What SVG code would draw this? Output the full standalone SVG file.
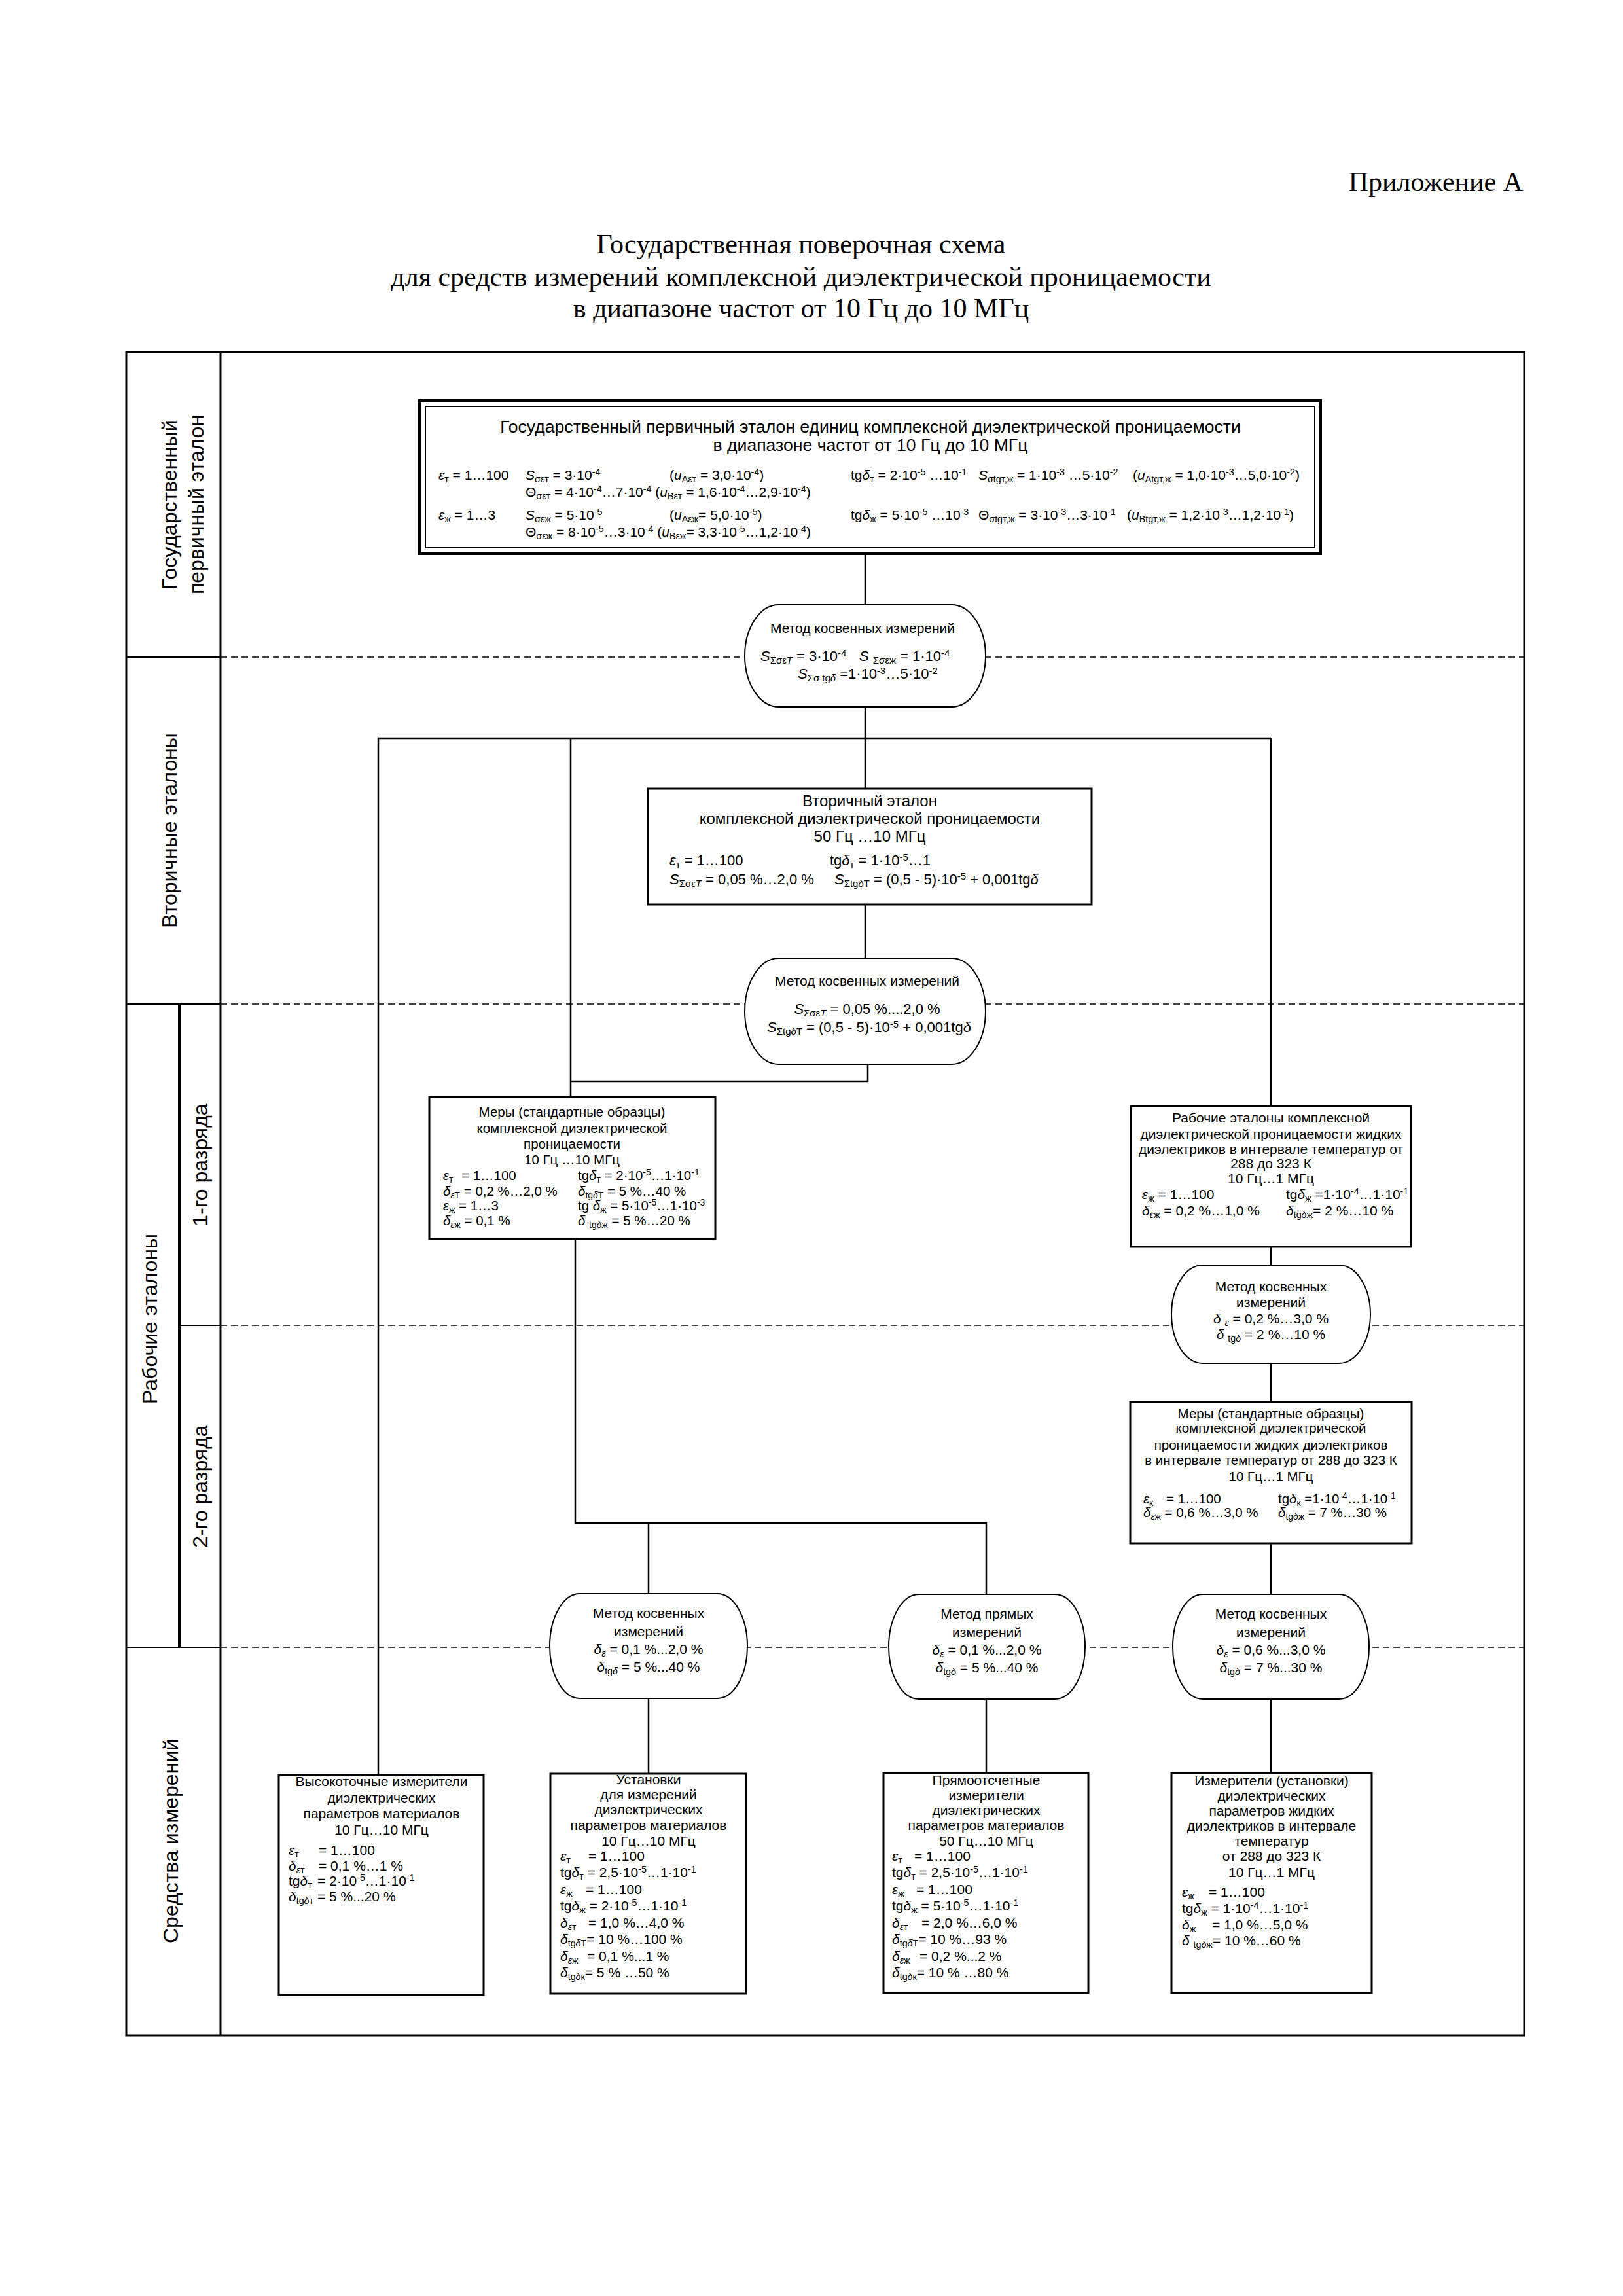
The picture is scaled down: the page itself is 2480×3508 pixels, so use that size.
<svg xmlns="http://www.w3.org/2000/svg" width="2480" height="3508" viewBox="0 0 2480 3508">
<style>
text{font-family:"Liberation Sans",Arial,Helvetica,sans-serif;fill:#000}
.serif{font-family:"Liberation Serif","Times New Roman",serif;font-size:42px}
.lab{font-size:32px;text-anchor:middle}
.c{text-anchor:middle}
.i{font-style:italic}
.sb{font-size:68%;baseline-shift:-4px}
.sp{font-size:68%;baseline-shift:7.5px}
.f20{font-size:20.5px}
.f21{font-size:21px}
.f22{font-size:22px}
.f24{font-size:24px}
.f27{font-size:26.6px}
.box{fill:#fff;stroke:#000;stroke-width:3}
.ov{fill:#fff;stroke:#000;stroke-width:2}
.ln{fill:none;stroke:#000;stroke-width:2.5}
.fr{fill:none;stroke:#000;stroke-width:3}
.thin{fill:none;stroke:#000;stroke-width:2}
.dash{fill:none;stroke:#000;stroke-width:1.5;stroke-dasharray:10 6}
</style>

<text class="serif" x="2327" y="292" text-anchor="end">Приложение А</text>
<text class="serif c" x="1224" y="387">Государственная поверочная схема</text>
<text class="serif c" x="1224" y="437">для средств измерений комплексной диэлектрической проницаемости</text>
<text class="serif c" x="1224" y="485">в диапазоне частот от 10 Гц до 10 МГц</text>

<g id="frame">
<rect class="fr" x="193" y="538" width="2136" height="2572"/>
<line class="fr" x1="337" y1="538" x2="337" y2="3110"/>
<line x1="274" y1="1534" x2="274" y2="2517" stroke="#000" stroke-width="4"/>
<line class="thin" x1="193" y1="1004" x2="337" y2="1004"/>
<line class="thin" x1="193" y1="1534" x2="337" y2="1534"/>
<line class="thin" x1="274" y1="2025" x2="337" y2="2025"/>
<line class="thin" x1="193" y1="2517" x2="337" y2="2517"/>
<line class="dash" x1="337" y1="1004" x2="2329" y2="1004"/>
<line class="dash" x1="337" y1="1534" x2="2329" y2="1534"/>
<line class="dash" x1="337" y1="2025" x2="2329" y2="2025"/>
<line class="dash" x1="337" y1="2517" x2="2329" y2="2517"/>
<text class="lab" transform="translate(270,771) rotate(-90)">Государственный</text>
<text class="lab" transform="translate(311,771) rotate(-90)">первичный эталон</text>
<text class="lab" transform="translate(270,1269) rotate(-90)">Вторичные эталоны</text>
<text class="lab" transform="translate(240,2015) rotate(-90)">Рабочие эталоны</text>
<text class="lab" transform="translate(317,1780) rotate(-90)">1-го  разряда</text>
<text class="lab" transform="translate(317,2271) rotate(-90)">2-го  разряда</text>
<text class="lab" transform="translate(272,2813) rotate(-90)">Средства измерений</text>
</g>

<g id="connectors">
<path class="ln" d="M1322 846V924"/>
<path class="ln" d="M1322 1080V1205"/>
<path class="ln" d="M578 1128H1942"/>
<path class="ln" d="M578 1128V2712"/>
<path class="ln" d="M872 1128V1676"/>
<path class="ln" d="M1942 1128V1690"/>
<path class="ln" d="M1322 1382V1464"/>
<path class="ln" d="M1326 1626V1652H872"/>
<path class="ln" d="M879 1893V2327H1507V2436"/>
<path class="ln" d="M991 2327V2435"/>
<path class="ln" d="M991 2595V2710"/>
<path class="ln" d="M1507 2596V2709"/>
<path class="ln" d="M1942 1905V1933"/>
<path class="ln" d="M1942 2083V2142"/>
<path class="ln" d="M1942 2358V2436"/>
<path class="ln" d="M1942 2596V2709"/>
</g>

<g id="primary">
<rect x="641" y="612" width="1377" height="234" fill="#fff" stroke="#000" stroke-width="4"/>
<rect x="650" y="621" width="1359" height="216" fill="none" stroke="#000" stroke-width="2"/>
<text class="f27 c" x="1330" y="661">Государственный первичный эталон единиц комплексной диэлектрической проницаемости</text>
<text class="f27 c" x="1330" y="689">в диапазоне частот от 10 Гц до 10 МГц</text>
<g class="f21">
<text x="670" y="733"><tspan class="i">ε</tspan><tspan class="sb">т</tspan> = 1…100</text>
<text x="803" y="733"><tspan class="i">S</tspan><tspan class="sb">σεт</tspan> = 3·10<tspan class="sp">-4</tspan></text>
<text x="1023" y="733">(<tspan class="i">u</tspan><tspan class="sb">Aεт</tspan> = 3,0·10<tspan class="sp">-4</tspan>)</text>
<text x="1300" y="733">tg<tspan class="i">δ</tspan><tspan class="sb">т</tspan> = 2·10<tspan class="sp">-5</tspan> …10<tspan class="sp">-1</tspan></text>
<text x="1495" y="733"><tspan class="i">S</tspan><tspan class="sb">σtgт,ж</tspan> = 1·10<tspan class="sp">-3</tspan> …5·10<tspan class="sp">-2</tspan></text>
<text x="1731" y="733">(<tspan class="i">u</tspan><tspan class="sb">Atgт,ж</tspan> = 1,0·10<tspan class="sp">-3</tspan>…5,0·10<tspan class="sp">-2</tspan>)</text>
<text x="803" y="759">Θ<tspan class="sb">σεт</tspan> = 4·10<tspan class="sp">-4</tspan>…7·10<tspan class="sp">-4</tspan> (<tspan class="i">u</tspan><tspan class="sb">Bεт</tspan> = 1,6·10<tspan class="sp">-4</tspan>…2,9·10<tspan class="sp">-4</tspan>)</text>
<text x="670" y="794"><tspan class="i">ε</tspan><tspan class="sb">ж</tspan> = 1…3</text>
<text x="803" y="794"><tspan class="i">S</tspan><tspan class="sb">σεж</tspan> = 5·10<tspan class="sp">-5</tspan></text>
<text x="1023" y="794">(<tspan class="i">u</tspan><tspan class="sb">Aεж</tspan>= 5,0·10<tspan class="sp">-5</tspan>)</text>
<text x="1300" y="794">tg<tspan class="i">δ</tspan><tspan class="sb">ж</tspan> = 5·10<tspan class="sp">-5</tspan> …10<tspan class="sp">-3</tspan></text>
<text x="1495" y="794">Θ<tspan class="sb">σtgт,ж</tspan> = 3·10<tspan class="sp">-3</tspan>…3·10<tspan class="sp">-1</tspan></text>
<text x="1722" y="794">(<tspan class="i">u</tspan><tspan class="sb">Btgт,ж</tspan> = 1,2·10<tspan class="sp">-3</tspan>…1,2·10<tspan class="sp">-1</tspan>)</text>
<text x="803" y="820">Θ<tspan class="sb">σεж</tspan> = 8·10<tspan class="sp">-5</tspan>…3·10<tspan class="sp">-4</tspan> (<tspan class="i">u</tspan><tspan class="sb">Bεж</tspan>= 3,3·10<tspan class="sp">-5</tspan>…1,2·10<tspan class="sp">-4</tspan>)</text>
</g>
</g>

<g id="method1">
<rect class="ov" x="1138" y="924" width="368" height="156" rx="52" ry="78"/>
<text class="f21 c" x="1318" y="967">Метод косвенных измерений</text>
<text class="f22" x="1162" y="1010"><tspan class="i">S</tspan><tspan class="sb">Σσε<tspan class="i">T</tspan></tspan> = 3·10<tspan class="sp">-4</tspan></text>
<text class="f22" x="1313" y="1010"><tspan class="i">S</tspan> <tspan class="sb">Σσεж</tspan> = 1·10<tspan class="sp">-4</tspan></text>
<text class="f22" x="1219" y="1037"><tspan class="i">S</tspan><tspan class="sb">Σσ tg<tspan class="i">δ</tspan></tspan> =1·10<tspan class="sp">-3</tspan>…5·10<tspan class="sp">-2</tspan></text>
</g>

<g id="secondary">
<rect class="box" x="990" y="1205" width="678" height="177"/>
<text class="f24 c" x="1329" y="1232">Вторичный эталон</text>
<text class="f24 c" x="1329" y="1259">комплексной диэлектрической проницаемости</text>
<text class="f24 c" x="1329" y="1286">50 Гц …10 МГц</text>
<text class="f22" x="1023" y="1322"><tspan class="i">ε</tspan><tspan class="sb">т</tspan> = 1…100</text>
<text class="f22" x="1268" y="1322">tg<tspan class="i">δ</tspan><tspan class="sb">т</tspan> = 1·10<tspan class="sp">-5</tspan>…1</text>
<text class="f22" x="1023" y="1351"><tspan class="i">S</tspan><tspan class="sb">Σσε<tspan class="i">T</tspan></tspan> = 0,05 %…2,0 %</text>
<text class="f22" x="1275" y="1351"><tspan class="i">S</tspan><tspan class="sb">Σtg<tspan class="i">δ</tspan>T</tspan> = (0,5 - 5)·10<tspan class="sp">-5</tspan> + 0,001tg<tspan class="i">δ</tspan></text>
</g>

<g id="method2">
<rect class="ov" x="1138" y="1464" width="368" height="162" rx="52" ry="81"/>
<text class="f21 c" x="1325" y="1506">Метод косвенных измерений</text>
<text class="f22 c" x="1325" y="1549"><tspan class="i">S</tspan><tspan class="sb">Σσε<tspan class="i">T</tspan></tspan> = 0,05 %....2,0 %</text>
<text class="f22 c" x="1328" y="1577"><tspan class="i">S</tspan><tspan class="sb">Σtg<tspan class="i">δ</tspan>T</tspan> = (0,5 - 5)·10<tspan class="sp">-5</tspan> + 0,001tg<tspan class="i">δ</tspan></text>
</g>

<g id="measures1">
<rect class="box" x="656" y="1676" width="437" height="217"/>
<g class="f20">
<text class="c" x="874" y="1706">Меры (стандартные образцы)</text>
<text class="c" x="874" y="1731">комплексной диэлектрической</text>
<text class="c" x="874" y="1755">проницаемости</text>
<text class="c" x="874" y="1779">10 Гц …10 МГц</text>
<text x="677" y="1803"><tspan class="i">ε</tspan><tspan class="sb">т</tspan><tspan x="705">= 1…100</tspan></text>
<text x="883" y="1803">tg<tspan class="i">δ</tspan><tspan class="sb">т</tspan> = 2·10<tspan class="sp">-5</tspan>…1·10<tspan class="sp">-1</tspan></text>
<text x="677" y="1827"><tspan class="i">δ</tspan><tspan class="sb"><tspan class="i">ε</tspan>Т</tspan> = 0,2 %…2,0 %</text>
<text x="883" y="1827"><tspan class="i">δ</tspan><tspan class="sb">tg<tspan class="i">δ</tspan>Т</tspan> = 5 %…40 %</text>
<text x="677" y="1849"><tspan class="i">ε</tspan><tspan class="sb">ж</tspan> = 1…3</text>
<text x="883" y="1849">tg <tspan class="i">δ</tspan><tspan class="sb">ж</tspan> = 5·10<tspan class="sp">-5</tspan>…1·10<tspan class="sp">-3</tspan></text>
<text x="677" y="1872"><tspan class="i">δ</tspan><tspan class="sb"><tspan class="i">ε</tspan>ж</tspan> = 0,1 %</text>
<text x="883" y="1872"><tspan class="i">δ</tspan> <tspan class="sb">tg<tspan class="i">δ</tspan>ж</tspan> = 5 %…20 %</text>
</g>
</g>

<g id="working1">
<rect class="box" x="1728" y="1690" width="428" height="215"/>
<g class="f21">
<text class="c" x="1942" y="1715">Рабочие эталоны комплексной</text>
<text class="c" x="1942" y="1740">диэлектрической проницаемости жидких</text>
<text class="c" x="1942" y="1763">диэлектриков в интервале температур от</text>
<text class="c" x="1942" y="1785">288  до 323 К</text>
<text class="c" x="1942" y="1808">10 Гц…1 МГц</text>
<text x="1745" y="1832"><tspan class="i">ε</tspan><tspan class="sb">ж</tspan> = 1…100</text>
<text x="1965" y="1832">tg<tspan class="i">δ</tspan><tspan class="sb">ж</tspan> =1·10<tspan class="sp">-4</tspan>…1·10<tspan class="sp">-1</tspan></text>
<text x="1745" y="1857"><tspan class="i">δ</tspan><tspan class="sb"><tspan class="i">ε</tspan>ж</tspan> = 0,2 %…1,0 %</text>
<text x="1965" y="1857"><tspan class="i">δ</tspan><tspan class="sb">tg<tspan class="i">δ</tspan>ж</tspan>= 2 %…10 %</text>
</g>
</g>

<g id="method3">
<rect class="ov" x="1790" y="1933" width="304" height="150" rx="48" ry="75"/>
<g class="f21">
<text class="c" x="1942" y="1973">Метод косвенных</text>
<text class="c" x="1942" y="1997">измерений</text>
<text class="c" x="1942" y="2022"><tspan class="i">δ</tspan> <tspan class="sb"><tspan class="i">ε</tspan></tspan> = 0,2 %…3,0 %</text>
<text class="c" x="1942" y="2046"><tspan class="i">δ</tspan> <tspan class="sb">tg<tspan class="i">δ</tspan></tspan> = 2 %…10 %</text>
</g>
</g>

<g id="measures2">
<rect class="box" x="1727" y="2142" width="430" height="216"/>
<g class="f20">
<text class="c" x="1942" y="2167">Меры (стандартные образцы)</text>
<text class="c" x="1942" y="2189">комплексной диэлектрической</text>
<text class="c" x="1942" y="2215">проницаемости жидких диэлектриков</text>
<text class="c" x="1942" y="2238">в интервале температур от 288 до 323 К</text>
<text class="c" x="1942" y="2263">10 Гц…1 МГц</text>
<text x="1747" y="2297"><tspan class="i">ε</tspan><tspan class="sb">к</tspan><tspan x="1782">= 1…100</tspan></text>
<text x="1953" y="2297">tg<tspan class="i">δ</tspan><tspan class="sb">к</tspan> =1·10<tspan class="sp">-4</tspan>…1·10<tspan class="sp">-1</tspan></text>
<text x="1747" y="2318"><tspan class="i">δ</tspan><tspan class="sb"><tspan class="i">ε</tspan>ж</tspan> = 0,6 %…3,0 %</text>
<text x="1953" y="2318"><tspan class="i">δ</tspan><tspan class="sb">tg<tspan class="i">δ</tspan>ж</tspan> = 7 %…30 %</text>
</g>
</g>

<g id="methodA">
<rect class="ov" x="840" y="2435" width="302" height="160" rx="46" ry="80"/>
<g class="f21">
<text class="c" x="991" y="2472">Метод косвенных</text>
<text class="c" x="991" y="2500">измерений</text>
<text class="c" x="991" y="2527"><tspan class="i">δ</tspan><tspan class="sb"><tspan class="i">ε</tspan></tspan> = 0,1 %...2,0 %</text>
<text class="c" x="991" y="2554"><tspan class="i">δ</tspan><tspan class="sb">tg<tspan class="i">δ</tspan></tspan> = 5 %...40 %</text>
</g>
</g>

<g id="methodB">
<rect class="ov" x="1358" y="2436" width="300" height="160" rx="46" ry="80"/>
<g class="f21">
<text class="c" x="1508" y="2473">Метод прямых</text>
<text class="c" x="1508" y="2501">измерений</text>
<text class="c" x="1508" y="2528"><tspan class="i">δ</tspan><tspan class="sb"><tspan class="i">ε</tspan></tspan> = 0,1 %...2,0 %</text>
<text class="c" x="1508" y="2555"><tspan class="i">δ</tspan><tspan class="sb">tg<tspan class="i">δ</tspan></tspan> = 5 %...40 %</text>
</g>
</g>

<g id="methodC">
<rect class="ov" x="1792" y="2436" width="300" height="160" rx="46" ry="80"/>
<g class="f21">
<text class="c" x="1942" y="2473">Метод косвенных</text>
<text class="c" x="1942" y="2501">измерений</text>
<text class="c" x="1942" y="2528"><tspan class="i">δ</tspan><tspan class="sb"><tspan class="i">ε</tspan></tspan> = 0,6 %...3,0 %</text>
<text class="c" x="1942" y="2555"><tspan class="i">δ</tspan><tspan class="sb">tg<tspan class="i">δ</tspan></tspan> = 7 %...30 %</text>
</g>
</g>

<g id="instr1">
<rect class="box" x="426" y="2712" width="313" height="336"/>
<g class="f21">
<text class="c" x="583" y="2729">Высокоточные  измерители</text>
<text class="c" x="583" y="2754">диэлектрических</text>
<text class="c" x="583" y="2778">параметров материалов</text>
<text class="c" x="583" y="2803">10 Гц…10 МГц</text>
<text x="441" y="2834"><tspan class="i">ε</tspan><tspan class="sb">т</tspan><tspan x="487">= 1…100</tspan></text>
<text x="441" y="2858"><tspan class="i">δ</tspan><tspan class="sb"><tspan class="i">ε</tspan>т</tspan><tspan x="487">= 0,1 %…1 %</tspan></text>
<text x="441" y="2881">tg<tspan class="i">δ</tspan><tspan class="sb">т</tspan><tspan x="485">= 2·10</tspan><tspan class="sp">-5</tspan>…1·10<tspan class="sp">-1</tspan></text>
<text x="441" y="2905"><tspan class="i">δ</tspan><tspan class="sb">tg<tspan class="i">δ</tspan>т</tspan> = 5 %...20 %</text>
</g>
</g>

<g id="instr2">
<rect class="box" x="841" y="2710" width="299" height="336"/>
<g class="f21">
<text class="c" x="991" y="2726">Установки</text>
<text class="c" x="991" y="2749">для измерений</text>
<text class="c" x="991" y="2772">диэлектрических</text>
<text class="c" x="991" y="2796">параметров  материалов</text>
<text class="c" x="991" y="2820">10 Гц…10 МГц</text>
<text x="856" y="2843"><tspan class="i">ε</tspan><tspan class="sb">т</tspan><tspan x="899">= 1…100</tspan></text>
<text x="856" y="2868">tg<tspan class="i">δ</tspan><tspan class="sb">т</tspan> = 2,5·10<tspan class="sp">-5</tspan>…1·10<tspan class="sp">-1</tspan></text>
<text x="856" y="2894"><tspan class="i">ε</tspan><tspan class="sb">ж</tspan><tspan x="895">= 1…100</tspan></text>
<text x="856" y="2919">tg<tspan class="i">δ</tspan><tspan class="sb">ж</tspan> = 2·10<tspan class="sp">-5</tspan>…1·10<tspan class="sp">-1</tspan></text>
<text x="856" y="2945"><tspan class="i">δ</tspan><tspan class="sb"><tspan class="i">ε</tspan>т</tspan><tspan x="899">= 1,0 %…4,0 %</tspan></text>
<text x="856" y="2970"><tspan class="i">δ</tspan><tspan class="sb">tg<tspan class="i">δ</tspan>Т</tspan>= 10 %…100 %</text>
<text x="856" y="2996"><tspan class="i">δ</tspan><tspan class="sb"><tspan class="i">ε</tspan>ж</tspan><tspan x="897">=  0,1 %...1 %</tspan></text>
<text x="856" y="3021"><tspan class="i">δ</tspan><tspan class="sb">tg<tspan class="i">δ</tspan>к</tspan>= 5 % …50 %</text>
</g>
</g>

<g id="instr3">
<rect class="box" x="1350" y="2709" width="313" height="336"/>
<g class="f21">
<text class="c" x="1507" y="2727">Прямоотсчетные</text>
<text class="c" x="1507" y="2750">измерители</text>
<text class="c" x="1507" y="2773">диэлектрических</text>
<text class="c" x="1507" y="2796">параметров  материалов</text>
<text class="c" x="1507" y="2820">50 Гц…10 МГц</text>
<text x="1363" y="2843"><tspan class="i">ε</tspan><tspan class="sb">т</tspan><tspan x="1397">= 1…100</tspan></text>
<text x="1363" y="2868">tg<tspan class="i">δ</tspan><tspan class="sb">т</tspan> = 2,5·10<tspan class="sp">-5</tspan>…1·10<tspan class="sp">-1</tspan></text>
<text x="1363" y="2894"><tspan class="i">ε</tspan><tspan class="sb">ж</tspan><tspan x="1400">= 1…100</tspan></text>
<text x="1363" y="2919">tg<tspan class="i">δ</tspan><tspan class="sb">ж</tspan> = 5·10<tspan class="sp">-5</tspan>…1·10<tspan class="sp">-1</tspan></text>
<text x="1363" y="2945"><tspan class="i">δ</tspan><tspan class="sb"><tspan class="i">ε</tspan>т</tspan><tspan x="1408">= 2,0 %…6,0 %</tspan></text>
<text x="1363" y="2970"><tspan class="i">δ</tspan><tspan class="sb">tg<tspan class="i">δ</tspan>Т</tspan>= 10 %…93 %</text>
<text x="1363" y="2996"><tspan class="i">δ</tspan><tspan class="sb"><tspan class="i">ε</tspan>ж</tspan><tspan x="1405">=  0,2 %...2 %</tspan></text>
<text x="1363" y="3021"><tspan class="i">δ</tspan><tspan class="sb">tg<tspan class="i">δ</tspan>к</tspan>= 10 % …80 %</text>
</g>
</g>

<g id="instr4">
<rect class="box" x="1790" y="2709" width="306" height="336"/>
<g class="f21">
<text class="c" x="1943" y="2728">Измерители (установки)</text>
<text class="c" x="1943" y="2751">диэлектрических</text>
<text class="c" x="1943" y="2774">параметров жидких</text>
<text class="c" x="1943" y="2797">диэлектриков в интервале</text>
<text class="c" x="1943" y="2820">температур</text>
<text class="c" x="1943" y="2843">от 288 до 323 К</text>
<text class="c" x="1943" y="2868">10 Гц…1 МГц</text>
<text x="1806" y="2898"><tspan class="i">ε</tspan><tspan class="sb">ж</tspan><tspan x="1847">= 1…100</tspan></text>
<text x="1806" y="2923">tg<tspan class="i">δ</tspan><tspan class="sb">ж</tspan> = 1·10<tspan class="sp">-4</tspan>…1·10<tspan class="sp">-1</tspan></text>
<text x="1806" y="2948"><tspan class="i">δ</tspan><tspan class="sb">ж</tspan><tspan x="1852">= 1,0 %…5,0 %</tspan></text>
<text x="1806" y="2972"><tspan class="i">δ</tspan> <tspan class="sb">tg<tspan class="i">δ</tspan>ж</tspan>= 10 %…60 %</text>
</g>
</g>
</svg>
